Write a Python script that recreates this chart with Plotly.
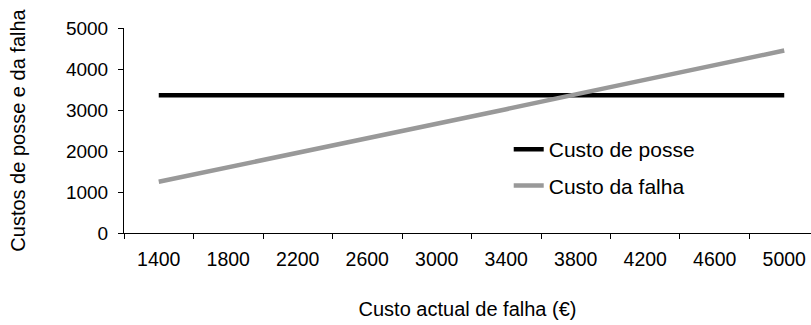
import plotly.graph_objects as go

categories = ["1400", "1800", "2200", "2600", "3000", "3400", "3800", "4200", "4600", "5000"]
custo_posse = [3360, 3360, 3360, 3360, 3360, 3360, 3360, 3360, 3360, 3360]
custo_falha = [1250, 1600, 1960, 2310, 2670, 3020, 3380, 3740, 4090, 4450]

FONT = "Liberation Sans, Arial, sans-serif"

fig = go.Figure()
fig.add_trace(go.Scatter(x=categories, y=custo_posse, mode="lines", name="Custo de posse",
                         line=dict(color="#000000", width=4.5), legendgroup="a"))
fig.add_trace(go.Scatter(x=categories, y=custo_falha, mode="lines", name="Custo da falha",
                         line=dict(color="#999999", width=4.5), legendgroup="b"))

fig.update_layout(
    width=811, height=325,
    margin=dict(l=124, r=0, t=28, b=92),
    paper_bgcolor="white", plot_bgcolor="white",
    font=dict(family=FONT, color="black", size=19),
    showlegend=True,
    legend=dict(x=0.56, y=0.507, xanchor="left", yanchor="top",
                font=dict(size=21, family=FONT, color="black"),
                bgcolor="rgba(0,0,0,0)", traceorder="grouped", tracegroupgap=6),
    xaxis=dict(type="category", range=[-0.5, 9.385], tickson="boundaries",
               ticks="outside", ticklen=5, tickcolor="black", showline=True,
               linecolor="black", linewidth=1, showgrid=False, zeroline=False,
               tickfont=dict(size=19.5, family=FONT), ticklabelstandoff=9,
               title=dict(text="Custo actual de falha (€)", font=dict(size=20, family=FONT), standoff=32)),
    yaxis=dict(range=[0, 5000], dtick=1000, ticks="outside", ticklen=5, tickcolor="black",
               showline=True, linecolor="black", linewidth=1, showgrid=False, zeroline=False,
               tickfont=dict(size=19, family=FONT), ticklabelstandoff=6,
               title=dict(text="Custos de posse e da falha", font=dict(size=20, family=FONT), standoff=34)),
)

fig.write_html("out.html", config={"displayModeBar": False},
               post_script="document.body.style.margin='0';document.body.style.overflow='hidden';")
